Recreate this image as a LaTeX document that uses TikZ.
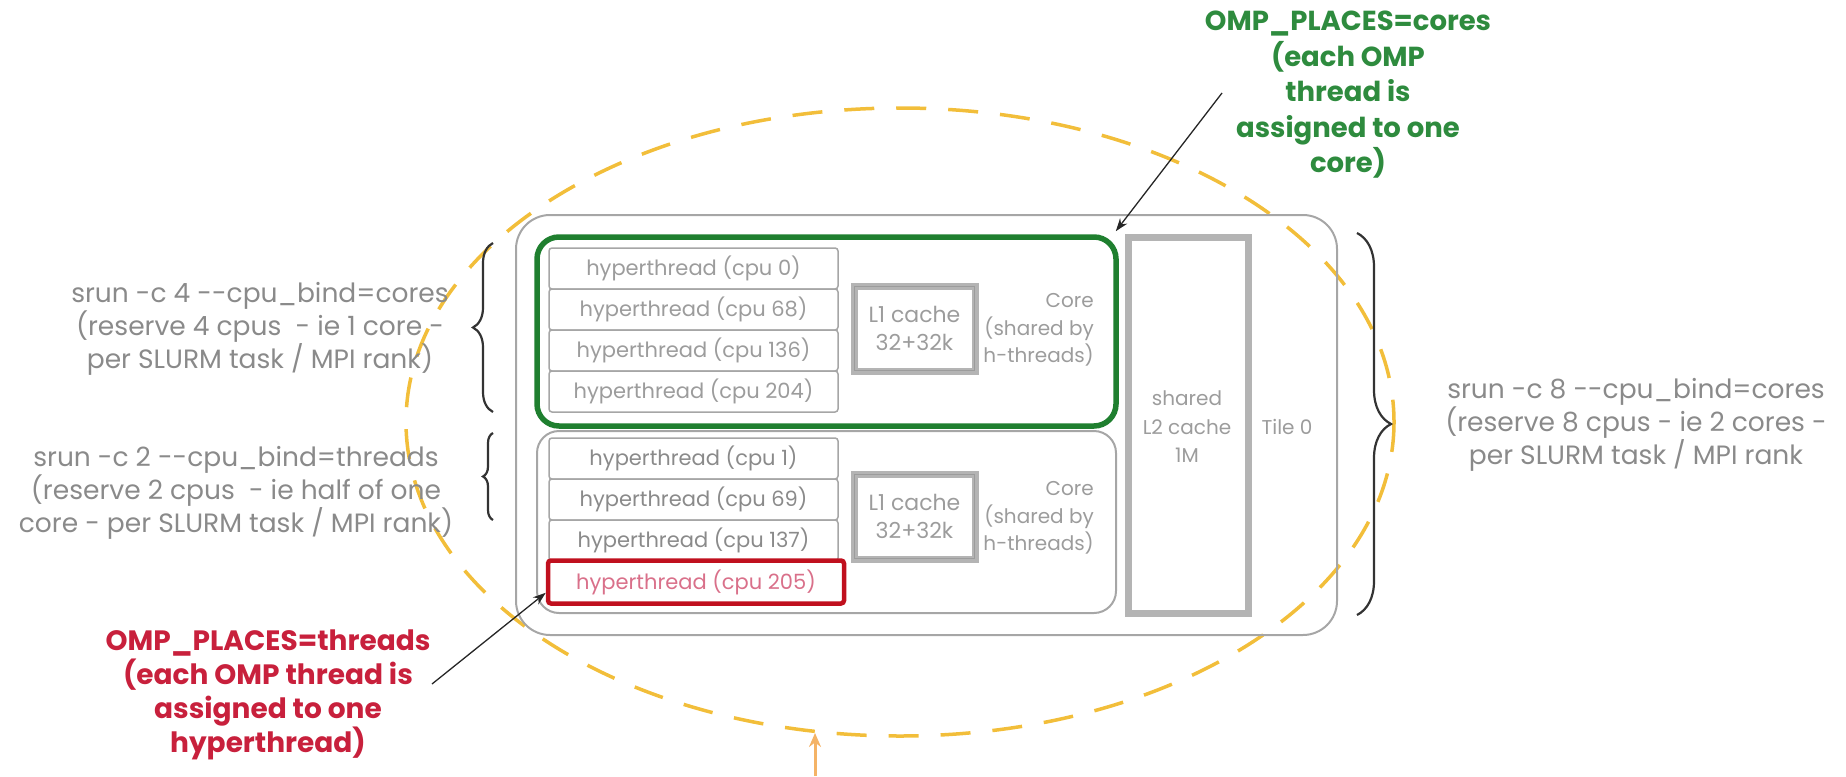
\documentclass[tikz,border=0pt]{standalone}
\usepackage{fontspec}
\setmainfont{Poppins}
\usetikzlibrary{decorations.pathreplacing,arrows.meta,calc}
\definecolor{txtgray}{HTML}{8A8A8A}
\definecolor{lightgray}{HTML}{9C9C9C}
\definecolor{boxgray}{HTML}{A6A6A6}
\definecolor{cachegray}{HTML}{B4B4B4}
\definecolor{coregreen}{HTML}{1F7F2F}
\definecolor{lblgreen}{HTML}{2E8B3E}
\definecolor{boxred}{HTML}{C0101E}
\definecolor{lblred}{HTML}{C8203C}
\definecolor{pinktxt}{HTML}{D9708A}
\definecolor{ellcol}{HTML}{F2BE3A}
\definecolor{arrorange}{HTML}{F4B366}
\begin{document}
\begin{tikzpicture}[x=1pt,y=-1pt,
  tilebox/.style={draw=boxgray, line width=2, rounded corners=34, minimum width=821, minimum height=420, inner sep=0},
  corebox/.style={draw=boxgray, line width=2, rounded corners=22, minimum width=579, inner sep=0},
  greencore/.style={draw=coregreen, line width=5.5, rounded corners=22, minimum width=579, minimum height=189, inner sep=0},
  htbox/.style={draw=boxgray, line width=1.5, rounded corners=3, minimum width=289, minimum height=41, inner sep=0, text=lightgray, font=\fontsize{21}{24}\selectfont},
  redbox/.style={draw=boxred, line width=4.5, rounded corners=3, minimum width=296, minimum height=43, inner sep=0, text=pinktxt, font=\fontsize{21}{24}\selectfont},
  l1box/.style={draw=cachegray, line width=7, minimum width=121, minimum height=85, inner sep=0, align=center, text=lightgray, font=\fontsize{22}{28}\selectfont},
  l2box/.style={draw=cachegray, line width=7, minimum width=120, minimum height=376, inner sep=0},
  coretxt/.style={anchor=east, align=right, text=lightgray, font=\fontsize{20}{27.5}\selectfont, inner sep=0},
  smalltxt/.style={align=center, text=lightgray, font=\fontsize{20}{28.5}\selectfont, inner sep=0},
  sidetxt/.style={align=center, text=txtgray, font=\fontsize{26.5}{33}\selectfont, inner sep=0},
  greentxt/.style={align=center, text=lblgreen, font=\bfseries\fontsize{27.5}{35.5}\selectfont, inner sep=0},
  redtxt/.style={align=center, text=lblred, font=\bfseries\fontsize{28}{34}\selectfont, inner sep=0},
  bracestyle/.style={draw=black!80, line width=2.2, decorate},
  ptr/.style={draw=black!85, line width=1.3, -{Stealth[length=13,width=9]}},
  ell/.style={draw=ellcol, line width=3.5, dash pattern=on 30pt off 22pt}
]
\useasboundingbox (0,0) rectangle (1846,776);

% dashed ellipse
\draw[ell] (900,422) ellipse [x radius=494, y radius=314];

% tile
\node[tilebox] (tile) at (926.5,425) {};
\node[greencore] (core0) at (826.5,331.5) {};
\node[corebox, minimum height=182] (core1) at (826.5,522) {};

% hyperthreads core 0
\node[htbox] (h0) at (693.5,268.5) {hyperthread (cpu 0)};
\node[htbox] (h68) at (693.5,309.5) {hyperthread (cpu 68)};
\node[htbox] (h136) at (693.5,350.5) {hyperthread (cpu 136)};
\node[htbox] (h204) at (693.5,391.5) {hyperthread (cpu 204)};
% hyperthreads core 1
\node[htbox, text=txtgray] (h1) at (693.5,458.5) {hyperthread (cpu 1)};
\node[htbox, text=txtgray] (h69) at (693.5,499.5) {hyperthread (cpu 69)};
\node[htbox, text=txtgray] (h137) at (693.5,540.5) {hyperthread (cpu 137)};
\node[redbox] (h205) at (696,582) {hyperthread (cpu 205)};

% L1 caches
\node[l1box] (l1a) at (914.5,328.5) {L1 cache\\32+32k};
\node[l1box] (l1b) at (914.5,516.5) {L1 cache\\32+32k};
\draw[lightgray, line width=1] ($(l1a.north west)+(4,4)$) rectangle ($(l1a.south east)+(-4,-4)$);
\draw[lightgray, line width=1] ($(l1b.north west)+(4,4)$) rectangle ($(l1b.south east)+(-4,-4)$);

% core labels
\node[coretxt] (c0t) at (1094,330) {Core\\(shared by\\h-threads)};
\node[coretxt] (c1t) at (1094,518) {Core\\(shared by\\h-threads)};

% L2
\node[l2box] (l2) at (1188,425) {};
\node[smalltxt] (l2t) at (1187,427) {shared\\L2 cache\\1M};
\node[smalltxt] (tilet) at (1287,427) {Tile 0};

% braces
\draw[bracestyle, decoration={brace, amplitude=34}] (1357,233) -- (1357,615);
\draw[bracestyle, decoration={brace, amplitude=20}] (493,412) -- (493,243);
\draw[bracestyle, decoration={brace, amplitude=10}] (493,520) -- (493,433);

% side labels
\node[sidetxt] (lt) at (260,329) {srun -c 4 -{}-cpu\_bind=cores\\(reserve 4 cpus~ - ie 1 core -\\per SLURM task / MPI rank)};
\node[sidetxt] (lb) at (236,493) {srun -c 2 -{}-cpu\_bind=threads\\(reserve 2 cpus~ - ie half of one\\core - per SLURM task / MPI rank)};
\node[sidetxt] (rt) at (1636,425) {srun -c 8 -{}-cpu\_bind=cores\\(reserve 8 cpus - ie 2 cores -\\per SLURM task / MPI rank};

% OMP labels
\node[greentxt] (gl) at (1348,95) {OMP\_PLACES=cores\\(each OMP\\thread is\\assigned to one\\core)};
\node[redtxt] (rl) at (268,695) {OMP\_PLACES=threads\\(each OMP thread is\\assigned to one\\hyperthread)};

% pointers
\coordinate (gs) at (1222,93);
\coordinate (rs) at (432,684);
\draw[ptr] (gs) -- ($(core0.north east)+(-3,-3)$);
\draw[ptr] (rs) -- ($(h205.south west)+(0,-13)$);

% orange arrow
\coordinate (os) at (815,776);
\coordinate (oe) at (815,733);
\draw[arrorange, line width=3, -{Stealth[length=14,width=12]}] (os) -- (oe);
\end{tikzpicture}
\end{document}
